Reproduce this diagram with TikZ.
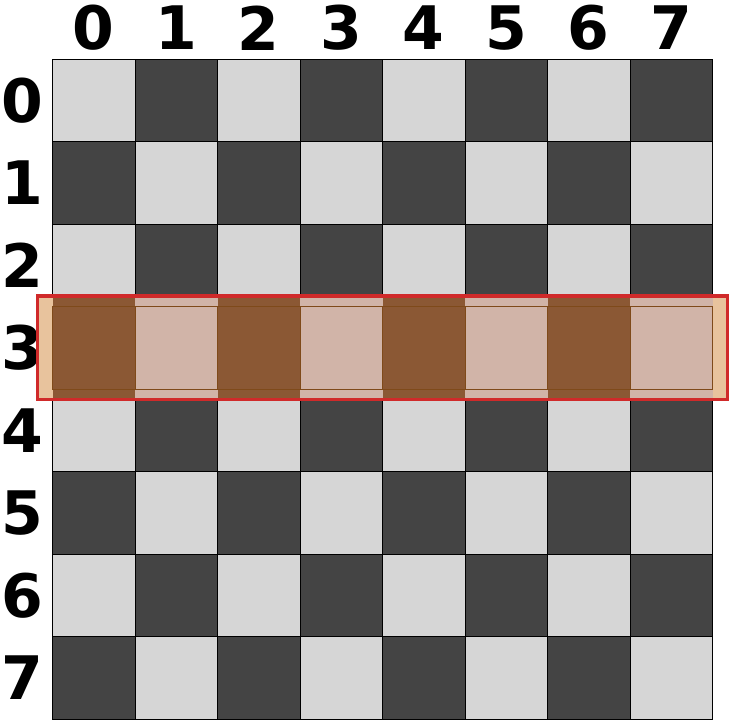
\documentclass[tikz,border=0pt]{standalone}
\usepackage{fontspec}
\setmainfont{DejaVu Sans}
\usetikzlibrary{positioning,fit}
\definecolor{sqlight}{HTML}{D6D6D6}
\definecolor{sqdark}{HTML}{444444}
\definecolor{rowdark}{HTML}{8B5834}
\definecolor{rowlight}{HTML}{D1B4A8}
\definecolor{rowline}{HTML}{7F4A1A}
\definecolor{bandfill}{HTML}{E8C39D}
\definecolor{bandred}{HTML}{D02A2A}
\tikzset{sq/.style={draw=black,line width=.6pt,minimum size=82.5pt,inner sep=0pt,outer sep=0pt},idx/.style={font=\fontsize{60}{60}\selectfont\bfseries,inner sep=0pt},frame/.style={draw=bandred,line width=3.5pt}}

\begin{document}
\begin{tikzpicture}[x=1pt,y=-1pt]
\useasboundingbox (0,0) rectangle (730,720);
% board
\foreach \r in {0,...,7}{\foreach \c in {0,...,7}{
  \pgfmathtruncatemacro\p{mod(\r+\c,2)}
  \ifnum\p=0 \def\f{sqlight}\else\def\f{sqdark}\fi
  \node[sq,fill=\f] (sq\r\c) at ({93.75+82.5*\c},{100.25+82.5*\r}) {};
}}
% indices
\foreach \c in {0,...,7}{\node[idx] (col\c) at ({93.75+82.5*\c},28) {\c};}
\foreach \r in {0,...,7}{\node[idx] (row\r) at (22,{100.25+82.5*\r}) {\r};}
% highlighted row 3
\node[fill=bandfill,inner xsep=15pt,inner ysep=10.5pt,fit=(sq30)(sq37)] (band) {};
\foreach \c in {0,...,7}{
  \pgfmathtruncatemacro\p{mod(3+\c,2)}
  \ifnum\p=0 \def\f{rowlight}\else\def\f{rowdark}\fi
  \fill[\f] (sq3\c.west |- band.north) rectangle (sq3\c.east |- band.south);
  \node[sq,draw=rowline,fill=\f] (hl\c) at (sq3\c) {};
}
\draw[frame] (band.north west) rectangle (band.south east);
\end{tikzpicture}
\end{document}
